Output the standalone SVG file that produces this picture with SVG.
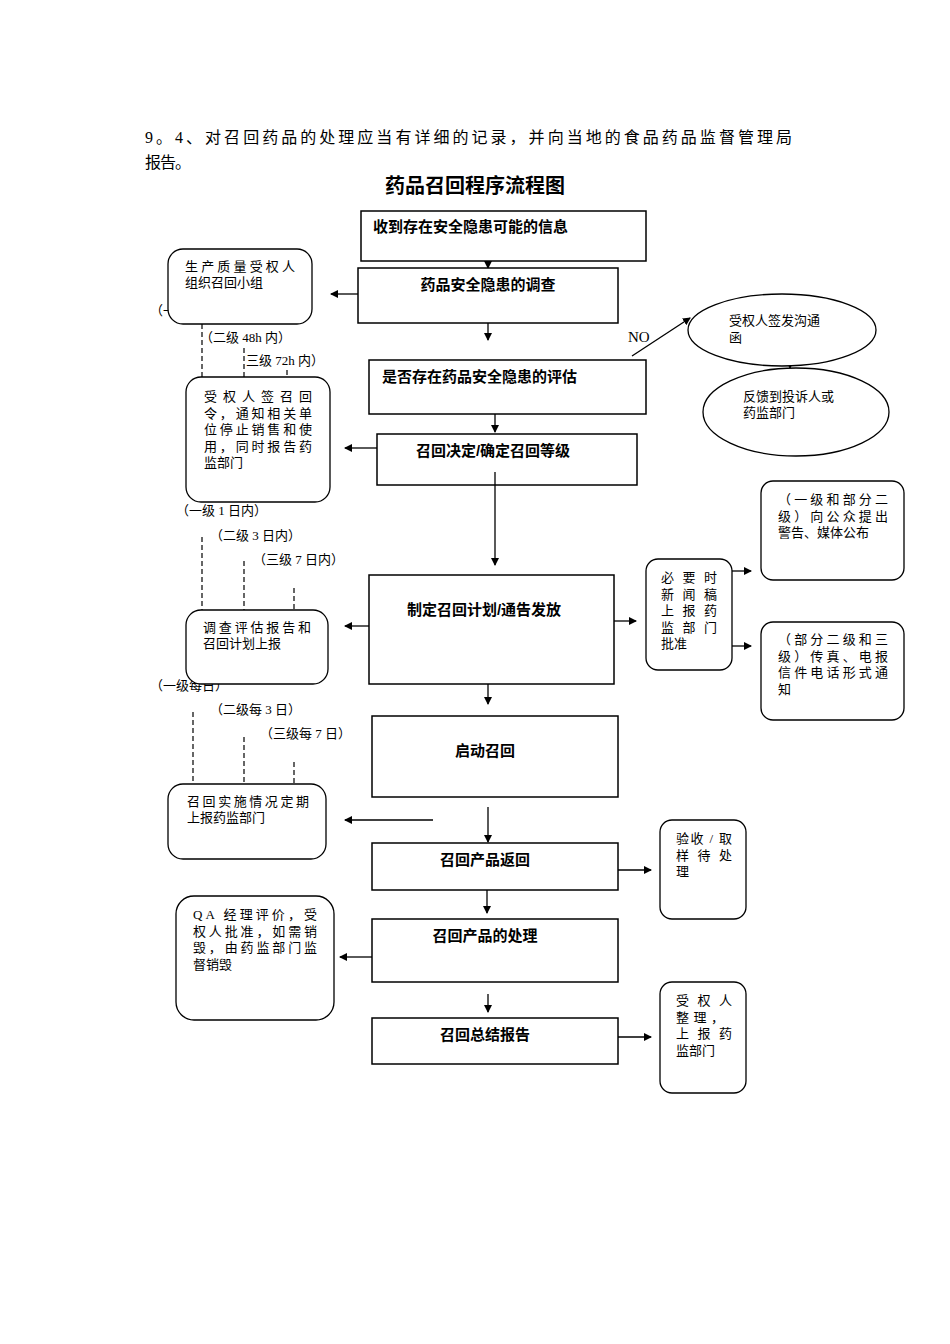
<svg xmlns="http://www.w3.org/2000/svg" width="950" height="1344" viewBox="0 0 950 1344">
<defs>
<marker id="ah" markerWidth="8" markerHeight="8" refX="7" refY="4" orient="auto" markerUnits="userSpaceOnUse"><path d="M0,0 L8,4 L0,8 Z" fill="#000"/></marker>
<style>
.box{fill:#fff;stroke:#000;stroke-width:1.5}
.rb{fill:#fff;stroke:#000;stroke-width:1.3}
.ln{stroke:#000;stroke-width:1.3;fill:none;marker-end:url(#ah)}
.ds{stroke:#000;stroke-width:1.2;stroke-dasharray:5,3;fill:none}
.m{font-family:"Liberation Sans","Noto Sans CJK SC",sans-serif;font-weight:bold;font-size:15px}
.s{font-family:"Liberation Serif","Noto Sans CJK SC",serif;font-size:13px}
.h{font-family:"Liberation Serif","Noto Sans CJK SC",serif;font-size:16px}
</style>
</defs>
<rect width="950" height="1344" fill="#fff"/>
<text class="h" x="145" y="143" textLength="647" lengthAdjust="spacing">9。4、对召回药品的处理应当有详细的记录，并向当地的食品药品监督管理局</text>
<text class="h" x="145" y="168" textLength="46" lengthAdjust="spacing">报告。</text>
<text x="475" y="193" text-anchor="middle" style="font-family:'Liberation Sans','Noto Sans CJK SC',sans-serif;font-weight:bold;font-size:20px">药品召回程序流程图</text>

<g id="labels" class="s">
<text x="150" y="315">（一</text>
<text x="150" y="690">（一级每日）</text>
</g>
<g id="connectors">
<path class="ln" d="M488,261 V268"/>
<path class="ln" d="M488,323 V340"/>
<path class="ln" d="M495,414 V432"/>
<path class="ln" d="M495,472 V565"/>
<path class="ln" d="M488,684 V704"/>
<path class="ln" d="M488,807 V842"/>
<path class="ln" d="M487,890 V913"/>
<path class="ln" d="M488,994 V1012"/>
<path class="ln" d="M358,294 H331"/>
<path class="ln" d="M377,448 H345"/>
<path class="ln" d="M369,626 H345"/>
<path class="ln" d="M433,820 H345"/>
<path class="ln" d="M372,957 H340"/>
<path class="ln" d="M632,356 L690,318"/>
<path class="ln" d="M790,345 V368"/>
<path class="ln" d="M614,621 H636"/>
<path class="ln" d="M732,571 H751"/>
<path class="ln" d="M732,646 H751"/>
<path class="ln" d="M618,870 H651"/>
<path class="ln" d="M618,1037 H651"/>
<path class="ds" d="M202,324 V395 M244,348 V377 M287,370 V377"/>
<path class="ds" d="M202,537 V610 M244,561 V610 M294,588 V610"/>
<path class="ds" d="M193,712 V784 M244,737 V784 M294,762 V784"/>
</g>
<g id="levels" class="s">
<text x="200" y="342">（二级 48h 内）</text>
<text x="246" y="365">三级 72h 内）</text>
<text x="176" y="515">（一级 1 日内）</text>
<text x="210" y="540">（二级 3 日内）</text>
<text x="253" y="564">（三级 7 日内）</text>
<text x="210" y="714">（二级每 3 日）</text>
<text x="260" y="738">（三级每 7 日）</text>
<text x="628" y="342" style="font-family:'Liberation Serif',serif;font-size:15px">NO</text>
</g>

<g id="n1"><rect class="box" x="361" y="211" width="285" height="50"/><text class="m" x="373" y="232">收到存在安全隐患可能的信息</text></g>
<g id="n2"><rect class="box" x="358" y="268" width="260" height="55"/><text class="m" x="488" y="290" text-anchor="middle">药品安全隐患的调查</text></g>
<g id="n3"><rect class="box" x="369" y="360" width="277" height="54"/><text class="m" x="382" y="382">是否存在药品安全隐患的评估</text></g>
<g id="n4"><rect class="box" x="377" y="434" width="260" height="51"/><text class="m" x="493" y="456" text-anchor="middle">召回决定/确定召回等级</text><path d="M495,472 V485" stroke="#000" stroke-width="1.3"/></g>
<g id="n5"><rect class="box" x="369" y="575" width="245" height="109"/><text class="m" x="484" y="615" text-anchor="middle">制定召回计划/通告发放</text></g>
<g id="n6"><rect class="box" x="372" y="716" width="246" height="81"/><text class="m" x="485" y="756" text-anchor="middle">启动召回</text></g>
<g id="n7"><rect class="box" x="372" y="843" width="246" height="47"/><text class="m" x="485" y="865" text-anchor="middle">召回产品返回</text></g>
<g id="n8"><rect class="box" x="372" y="919" width="246" height="63"/><text class="m" x="485" y="941" text-anchor="middle">召回产品的处理</text></g>
<g id="n9"><rect class="box" x="372" y="1018" width="246" height="46"/><text class="m" x="485" y="1040" text-anchor="middle">召回总结报告</text></g>

<g id="A" class="s"><rect class="rb" x="168" y="249" width="144" height="75" rx="15"/><text x="185" y="271" textLength="110" lengthAdjust="spacing">生产质量受权人</text><text x="185" y="287">组织召回小组</text></g>
<g id="B" class="s"><rect class="rb" x="186" y="377" width="144" height="125" rx="15"/>
<text x="204" y="401" textLength="108" lengthAdjust="spacing">受权人签召回</text>
<text x="204" y="418" textLength="108" lengthAdjust="spacing">令，通知相关单</text>
<text x="204" y="434" textLength="108" lengthAdjust="spacing">位停止销售和使</text>
<text x="204" y="451" textLength="108" lengthAdjust="spacing">用，同时报告药</text>
<text x="204" y="467">监部门</text></g>
<g id="C" class="s"><rect class="rb" x="186" y="610" width="142" height="74" rx="15"/><text x="203" y="632" textLength="108" lengthAdjust="spacing">调查评估报告和</text><text x="203" y="648">召回计划上报</text></g>
<g id="D" class="s"><rect class="rb" x="168" y="784" width="158" height="75" rx="15"/><text x="187" y="806" textLength="122" lengthAdjust="spacing">召回实施情况定期</text><text x="187" y="822">上报药监部门</text></g>
<g id="E" class="s"><rect class="rb" x="176" y="896" width="158" height="124" rx="18"/>
<text x="193" y="919" textLength="124" lengthAdjust="spacing">QA 经理评价，受</text>
<text x="193" y="936" textLength="124" lengthAdjust="spacing">权人批准，如需销</text>
<text x="193" y="952" textLength="124" lengthAdjust="spacing">毁，由药监部门监</text>
<text x="193" y="969">督销毁</text></g>
<g id="E1" class="s"><ellipse class="rb" cx="782" cy="330" rx="94" ry="36"/><text x="729" y="325">受权人签发沟通</text><text x="729" y="342">函</text></g>
<g id="E2" class="s"><ellipse class="rb" cx="796" cy="412" rx="93" ry="44"/><text x="743" y="401">反馈到投诉人或</text><text x="743" y="417">药监部门</text></g>
<g id="F" class="s"><rect class="rb" x="646" y="559" width="86" height="111" rx="12"/>
<text x="661" y="582" textLength="56" lengthAdjust="spacing">必要时</text>
<text x="661" y="599" textLength="56" lengthAdjust="spacing">新闻稿</text>
<text x="661" y="615" textLength="56" lengthAdjust="spacing">上报药</text>
<text x="661" y="632" textLength="56" lengthAdjust="spacing">监部门</text>
<text x="661" y="648">批准</text></g>
<g id="G" class="s"><rect class="rb" x="761" y="481" width="143" height="99" rx="12"/>
<text x="778" y="504" textLength="110" lengthAdjust="spacing">（一级和部分二</text>
<text x="778" y="521" textLength="110" lengthAdjust="spacing">级）向公众提出</text>
<text x="778" y="537">警告、媒体公布</text></g>
<g id="H" class="s"><rect class="rb" x="761" y="622" width="143" height="98" rx="12"/>
<text x="778" y="644" textLength="110" lengthAdjust="spacing">（部分二级和三</text>
<text x="778" y="661" textLength="110" lengthAdjust="spacing">级）传真、电报</text>
<text x="778" y="677" textLength="110" lengthAdjust="spacing">信件电话形式通</text>
<text x="778" y="694">知</text></g>
<g id="I" class="s"><rect class="rb" x="660" y="820" width="86" height="99" rx="12"/>
<text x="676" y="843" textLength="56" lengthAdjust="spacing">验收 / 取</text>
<text x="676" y="860" textLength="56" lengthAdjust="spacing">样待处</text>
<text x="676" y="876">理</text></g>
<g id="J" class="s"><rect class="rb" x="660" y="982" width="86" height="111" rx="12"/>
<text x="676" y="1005" textLength="56" lengthAdjust="spacing">受权人</text>
<text x="676" y="1022" textLength="48" lengthAdjust="spacing">整理，</text>
<text x="676" y="1038" textLength="56" lengthAdjust="spacing">上报药</text>
<text x="676" y="1055">监部门</text></g>
</svg>
